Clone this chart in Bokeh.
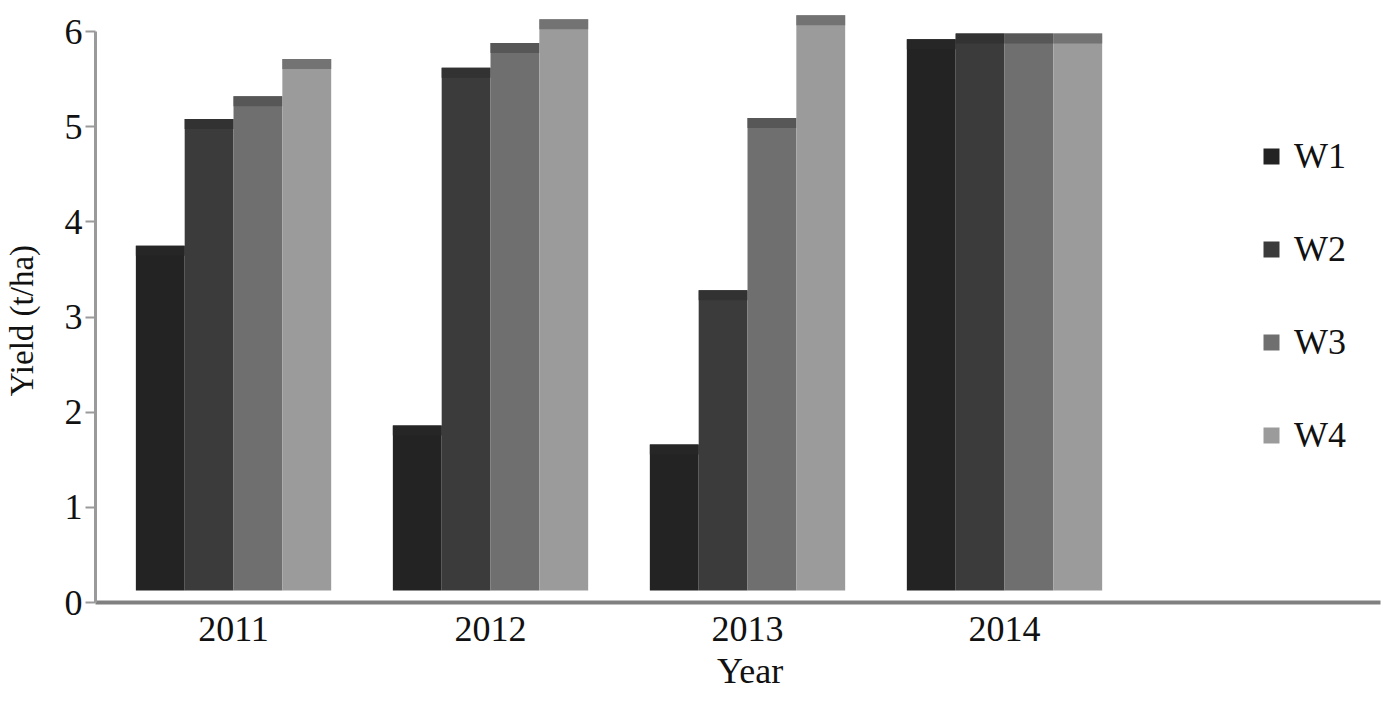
import math
from bokeh.plotting import figure
from bokeh.models import Range1d, ColumnDataSource, Legend, LegendItem, FixedTicker, Label
from bokeh.embed import file_html
from bokeh.resources import INLINE

years = ["2011", "2012", "2013", "2014"]
series = ["W1", "W2", "W3", "W4"]
W1 = [3.75, 1.86, 1.66, 5.92]
W2 = [5.08, 5.62, 3.28, 5.98]
W3 = [5.32, 5.88, 5.09, 5.98]
W4 = [5.71, 6.13, 6.17, 5.98]
values = [W1, W2, W3, W4]
x_title = "Year"
y_title = "Yield (t/ha)"
y_ticks = [0, 1, 2, 3, 4, 5, 6]

colors = ["#232323", "#3b3b3b", "#6f6f6f", "#9b9b9b"]
cap_colors = ["#262626", "#323232", "#575757", "#737373"]

FONT = "Liberation Serif"
X_LO, X_HI = -0.537, 4.463   # extent of the category axis

p = figure(width=1384, height=690, output_backend="svg", toolbar_location=None,
           x_range=Range1d(-0.9067, 4.4786), y_range=Range1d(-0.9247, 6.326),
           min_border_left=0, min_border_right=0, min_border_top=0, min_border_bottom=0)
p.outline_line_color = None
p.xgrid.visible = False
p.ygrid.visible = False
p.background_fill_color = "white"
p.border_fill_color = "white"

bw = 0.19
base = 0.126
cap = 0.105
xs = list(range(len(years)))
items = []
for i, (name, vals) in enumerate(zip(series, values)):
    off = (i - 1.5) * bw
    src = ColumnDataSource(dict(x=[x + off for x in xs], top=vals,
                                capb=[v - cap for v in vals]))
    r = p.vbar(x="x", width=bw, bottom=base, top="top", source=src,
               fill_color=colors[i], line_color=None)
    p.vbar(x="x", width=bw, bottom="capb", top="top", source=src,
           fill_color=cap_colors[i], line_color=None)
    items.append(LegendItem(label=name, renderers=[r]))

legend = Legend(items=items, location=(1261, 233), orientation="vertical",
                glyph_width=20, glyph_height=20, label_height=45, label_width=40,
                spacing=48, padding=0, margin=0, label_standoff=13,
                label_text_font=FONT, label_text_font_size="36px",
                label_text_color="#111111",
                border_line_color=None, background_fill_alpha=0)
p.add_layout(legend)

# x axis drawn at y = 0
xa = p.xaxis[0]
xa.fixed_location = 0
xa.bounds = (X_LO, X_HI)
xa.ticker = FixedTicker(ticks=xs)
xa.major_label_overrides = {i: y for i, y in enumerate(years)}
xa.major_tick_out = 0
xa.major_tick_in = 0
xa.minor_tick_out = 0
xa.minor_tick_in = 0
xa.axis_line_color = "#808080"
xa.axis_line_width = 4
xa.major_label_text_font = FONT
xa.major_label_text_font_size = "36px"
xa.major_label_text_color = "#111111"
xa.major_label_standoff = 14

# y axis drawn at the left end of the category axis
ya = p.yaxis[0]
ya.fixed_location = X_LO
ya.bounds = (0, 6)
ya.ticker = FixedTicker(ticks=y_ticks)
ya.axis_line_color = "#9a9a9a"
ya.axis_line_width = 3
ya.major_tick_out = 10
ya.major_tick_in = 0
ya.major_tick_line_color = "#9a9a9a"
ya.major_tick_line_width = 2
ya.minor_tick_out = 0
ya.minor_tick_in = 0
ya.major_label_text_font = FONT
ya.major_label_text_font_size = "36px"
ya.major_label_text_color = "#111111"
ya.major_label_standoff = 3

# axis titles
p.add_layout(Label(x=2.01, y=-0.72, text=x_title, text_font=FONT,
                   text_font_size="36px", text_color="#111111",
                   text_align="center", text_baseline="middle"))
p.add_layout(Label(x=-0.823, y=2.963, text=y_title, text_font=FONT, angle=math.pi / 2,
                   text_font_size="33px", text_color="#111111",
                   text_align="center", text_baseline="middle"))

open("out.html", "w").write(file_html(p, INLINE))
